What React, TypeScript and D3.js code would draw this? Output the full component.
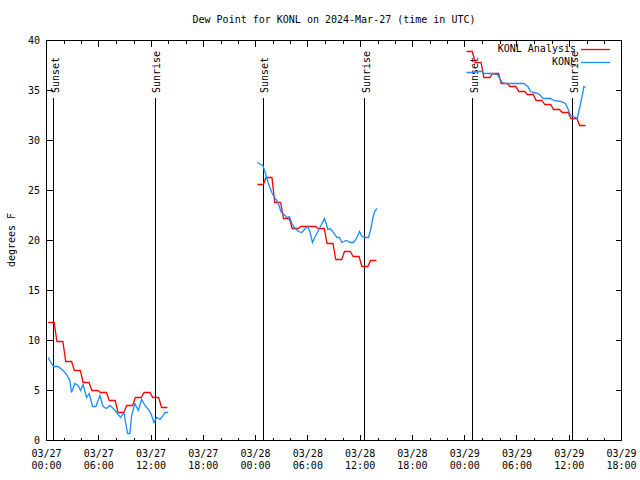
import React from "react";
import * as d3 from "d3";

// Hours since 2024-03-27 00:00 UTC
const analysisStarts = [0, 24, 48];
const analysis1 = [11.8, 9.9, 7.9, 7.0, 5.8, 5.0, 4.8, 4.0, 2.8, 3.5, 4.3, 4.8, 4.3, 3.3];
const analysis2 = [25.6, 26.3, 23.8, 22.2, 21.2, 21.4, 21.4, 21.2, 19.7, 18.1, 18.9, 18.4, 17.4, 18.0];
const analysis3 = [38.9, 37.8, 36.3, 36.7, 35.7, 35.4, 34.9, 34.6, 34.0, 33.6, 33.1, 32.8, 32.2, 31.5];

const obsTime1 = [0.18, 0.57, 0.84, 1.33, 1.91, 2.3, 2.68, 2.87, 3.25, 3.63, 3.91, 4.2, 4.6, 4.9, 5.29, 5.67, 6.13, 6.5, 6.9, 7.28, 7.66, 8.05, 8.5, 8.89, 9.2, 9.31, 9.57, 9.77, 10.15, 10.53, 10.92, 11.3, 11.8, 12.07, 12.33, 12.64, 13.02, 13.4, 13.6, 13.98];
const obsVal1 = [8.3, 7.7, 7.4, 7.4, 7.0, 6.6, 6.0, 4.8, 5.7, 5.5, 5.0, 5.6, 4.3, 4.7, 3.4, 3.4, 4.5, 3.4, 3.2, 3.5, 3.2, 2.8, 2.3, 2.8, 1.2, 0.7, 0.7, 2.5, 3.7, 3.0, 4.1, 3.5, 3.0, 2.5, 1.8, 2.3, 2.1, 2.5, 2.8, 2.8];

const obsTime2 = [24.2, 24.6, 24.83, 25.1, 25.47, 25.86, 26.16, 26.44, 26.7, 26.9, 27.13, 27.59, 27.89, 28.16, 28.54, 28.92, 29.31, 29.69, 30.0, 30.26, 30.53, 30.84, 31.22, 31.61, 31.91, 32.1, 32.3, 32.56, 32.94, 33.33, 33.63, 33.9, 34.4, 34.86, 35.24, 35.63, 35.93, 36.2, 36.59, 36.97, 37.24, 37.47, 37.66, 37.93];
const obsVal2 = [27.8, 27.6, 27.5, 26.8, 25.7, 24.8, 24.3, 24.0, 23.5, 22.9, 22.7, 22.3, 22.4, 21.7, 21.2, 20.9, 20.8, 21.2, 21.4, 20.8, 19.8, 20.4, 21.0, 21.7, 22.2, 21.7, 21.1, 21.2, 20.8, 20.3, 20.3, 19.8, 20.0, 19.8, 19.8, 20.3, 20.9, 20.4, 20.3, 20.3, 21.2, 22.3, 22.9, 23.2];

const obsTime3 = [48.2, 48.86, 49.43, 50.0, 50.2, 50.58, 51.16, 51.73, 52.03, 52.3, 52.68, 53.26, 53.56, 54.02, 54.78, 55.24, 55.55, 55.93, 56.39, 56.7, 57.01, 57.85, 58.23, 59.0, 59.57, 59.84, 60.15, 60.53, 60.92, 61.3, 61.57, 61.68, 61.87];
const obsVal3 = [36.8, 36.8, 36.9, 36.9, 36.7, 36.7, 36.7, 36.6, 36.2, 35.8, 35.7, 35.7, 35.7, 35.7, 35.7, 35.4, 34.9, 34.8, 34.7, 34.5, 34.2, 34.2, 34.0, 33.9, 33.7, 33.2, 32.5, 32.4, 32.2, 33.7, 34.8, 35.4, 35.3];

const sunEvents = ["Sunset", "Sunrise", "Sunset", "Sunrise", "Sunset", "Sunrise"];
const sunTimes = [0.75, 12.45, 24.8, 36.45, 48.85, 60.35];

const xTickDates = ["03/27", "03/27", "03/27", "03/27", "03/28", "03/28", "03/28", "03/28", "03/29", "03/29", "03/29", "03/29"];
const xTickTimes = ["00:00", "06:00", "12:00", "18:00", "00:00", "06:00", "12:00", "18:00", "00:00", "06:00", "12:00", "18:00"];
const yTicks = [0, 5, 10, 15, 20, 25, 30, 35, 40];

const FONT = "'DejaVu Sans Mono', monospace";
const RED = "#ff0000";
const BLUE = "#1a8cff";

export default function App() {
  const W = 640, H = 480;
  const x = d3.scaleLinear().domain([0, 66]).range([46.5, 621.5]);
  const y = d3.scaleLinear().domain([0, 40]).range([440.5, 40.5]);

  const line = d3
    .line<[number, number]>()
    .x((d) => x(d[0]))
    .y((d) => y(d[1]));

  const analyses = [analysis1, analysis2, analysis3];
  const obsT = [obsTime1, obsTime2, obsTime3];
  const obsV = [obsVal1, obsVal2, obsVal3];

  const majorTicks = d3.range(0, 67, 6);
  const minorTicks = d3.range(0, 67, 2).filter((h) => h % 6 !== 0);

  return (
    <svg width={W} height={H} style={{ position: "absolute", left: 0, top: 0, background: "#fff" }}>
      <rect x={0} y={0} width={W} height={H} fill="#fff" />
      <text x={334} y={20} textAnchor="middle" dominantBaseline="middle" fontFamily={FONT} fontSize={10}>
        Dew Point for KONL on 2024-Mar-27 (time in UTC)
      </text>
      <text
        transform={`translate(12,240) rotate(-90)`}
        textAnchor="middle"
        dominantBaseline="middle"
        fontFamily={FONT}
        fontSize={10}
      >
        degrees F
      </text>

      {/* sunrise / sunset */}
      {sunTimes.map((t, i) => (
        <g key={"sun" + i}>
          <line
            x1={Math.round(x(t)) + 0.5}
            x2={Math.round(x(t)) + 0.5}
            y1={98}
            y2={440}
            stroke="#000"
            strokeWidth={1}
            shapeRendering="crispEdges"
          />
          <text
            transform={`translate(${x(t) + 2},93) rotate(-90)`}
            textAnchor="start"
            dy="0.35em"
            fontFamily={FONT}
            fontSize={10}
          >
            {sunEvents[i]}
          </text>
        </g>
      ))}

      {/* axes frame */}
      <g shapeRendering="crispEdges" stroke="#000" strokeWidth={1}>
        <rect x={46.5} y={40.5} width={575} height={400} fill="none" />
        {majorTicks.map((h) => (
          <g key={"M" + h}>
            <line x1={x(h)} x2={x(h)} y1={440.5} y2={434.5} />
            <line x1={x(h)} x2={x(h)} y1={40.5} y2={46.5} />
          </g>
        ))}
        {minorTicks.map((h) => (
          <g key={"m" + h}>
            <line x1={Math.round(x(h)) + 0.5} x2={Math.round(x(h)) + 0.5} y1={440.5} y2={437.5} />
            <line x1={Math.round(x(h)) + 0.5} x2={Math.round(x(h)) + 0.5} y1={40.5} y2={43.5} />
          </g>
        ))}
        {yTicks.map((v) => (
          <g key={"y" + v}>
            <line x1={46.5} x2={52.5} y1={y(v)} y2={y(v)} />
            <line x1={621.5} x2={615.5} y1={y(v)} y2={y(v)} />
          </g>
        ))}
      </g>

      {yTicks.map((v) => (
        <text
          key={"yl" + v}
          x={40}
          y={y(v)}
          textAnchor="end"
          dominantBaseline="middle"
          fontFamily={FONT}
          fontSize={10}
        >
          {v}
        </text>
      ))}
      {majorTicks.map((h, i) => (
        <g key={"xl" + h}>
          <text x={x(h)} y={454} textAnchor="middle" dominantBaseline="middle" fontFamily={FONT} fontSize={10}>
            {xTickDates[i]}
          </text>
          <text x={x(h)} y={466} textAnchor="middle" dominantBaseline="middle" fontFamily={FONT} fontSize={10}>
            {xTickTimes[i]}
          </text>
        </g>
      ))}

      {/* analysis (red hourly values, each held for most of its hour) */}
      {analyses.map((arr, k) => {
        const pts: [number, number][] = [];
        arr.forEach((v, i) => {
          pts.push([analysisStarts[k] + i + 0.2, v]);
          pts.push([analysisStarts[k] + i + 0.88, v]);
        });
        return <path key={"a" + k} d={line(pts) || ""} fill="none" stroke={RED} strokeWidth={1.3} />;
      })}
      {/* observations (blue) */}
      {obsT.map((ts, k) => {
        const pts: [number, number][] = ts.map((t, i) => [t, obsV[k][i]]);
        return <path key={"o" + k} d={line(pts) || ""} fill="none" stroke={BLUE} strokeWidth={1.3} />;
      })}

      {/* legend */}
      <text x={576} y={49} textAnchor="end" dominantBaseline="middle" fontFamily={FONT} fontSize={10}>
        KONL Analysis
      </text>
      <line x1={581} x2={610} y1={49.5} y2={49.5} stroke={RED} strokeWidth={1.3} />
      <text x={576} y={62} textAnchor="end" dominantBaseline="middle" fontFamily={FONT} fontSize={10}>
        KONL
      </text>
      <line x1={581} x2={610} y1={62.5} y2={62.5} stroke={BLUE} strokeWidth={1.3} />
    </svg>
  );
}
